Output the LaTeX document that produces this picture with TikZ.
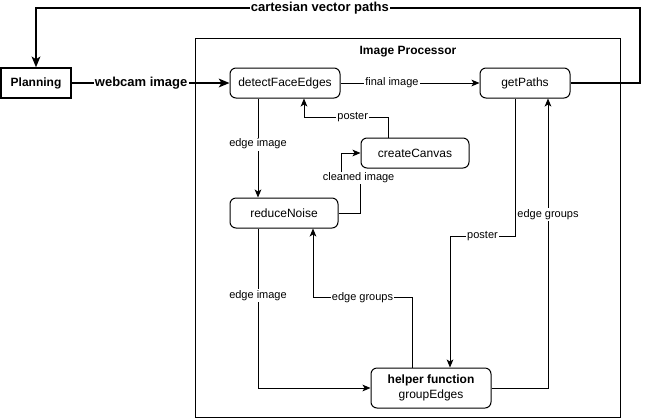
\documentclass[tikz,border=0pt]{standalone}
\usepackage{fontspec}
\setmainfont{Liberation Sans}
\usetikzlibrary{arrows.meta}

\begin{document}
\begin{tikzpicture}[x=0.75pt,y=-0.75pt,line width=0.75pt,
  >={Stealth[length=6pt,width=5pt,inset=1.5pt]},
  proc/.style={draw,rounded corners=4.5pt,minimum height=22.5pt,inner sep=0pt,font=\fontsize{9}{11}\selectfont},
  lbl/.style={fill=white,inner sep=1pt,font=\fontsize{8.25}{10}\selectfont},
  boldlbl/.style={fill=white,inner sep=1pt,font=\fontsize{9.75}{12}\selectfont\bfseries},
  thickline/.style={line width=1.5pt,>={Stealth[length=8pt,width=6.5pt,inset=2pt]}}]
\useasboundingbox (0,0) rectangle (650,419);
\draw (195,38) rectangle (620,417);
\node[font=\fontsize{9}{11}\selectfont\bfseries] (title) at (408,52) {Image Processor};
\node[draw,line width=1.1pt,minimum width=52.5pt,minimum height=22.5pt,font=\fontsize{9}{11}\selectfont\bfseries] (plan) at (36,83) {Planning};
\node[proc,minimum width=82.5pt] (detect) at (285,83) {detectFaceEdges};
\node[proc,minimum width=67.5pt] (paths) at (525,83) {getPaths};
\node[proc,minimum width=81pt] (canvas) at (415,153) {createCanvas};
\node[proc,minimum width=81pt] (noise) at (284,213) {reduceNoise};
\node[proc,minimum width=90pt,minimum height=30pt,align=center] (helper) at (431,388) {\textbf{helper function}\\groupEdges};
% outer loop
\coordinate (topR) at (640,8);
\coordinate (topL) at (plan.north |- topR);
\draw[thickline,->] (plan.east) -- (detect.west) node[boldlbl,pos=0.44] {webcam image};
\draw[thickline,->] (paths.east) -| (topR) -- (topL) node[boldlbl,pos=0.53] {cartesian vector paths} -- (plan.north);
% inside the processor
\draw[->] (detect.east) -- (paths.west) node[lbl,pos=0.37] {final image};
\draw[->] ([xshift=-20.25pt]detect.south) coordinate (e1) -- (e1 |- noise.north) node[lbl,pos=0.46] {edge image};
\draw[->] ([xshift=-20.25pt]canvas.north) -- ++(0,-20) -| ([xshift=14.25pt]detect.south) node[lbl,pos=0.21] {poster};
\draw[->] (noise.east) -- ++(22,0) -- ++(0,-35) -- ++(-19,0) node[lbl,pos=0.1] {cleaned image} -- ++(0,-25) -- (canvas.west);
\draw[->] ([xshift=-7.5pt]paths.south) -- ++(0,138) -| ([xshift=14.25pt]helper.north) node[lbl,pos=0.25] {poster};
\draw[->] (helper.east) -| ([xshift=17.25pt]paths.south) node[lbl,pos=0.8] {edge groups};
\draw[->] ([xshift=-19.5pt]noise.south) |- (helper.west) node[lbl,pos=0.21] {edge image};
\draw[->] ([xshift=-14.25pt]helper.north) -- ++(0,-70) -| ([xshift=21.75pt]noise.south) node[lbl,pos=0.25] {edge groups};
\end{tikzpicture}
\end{document}
